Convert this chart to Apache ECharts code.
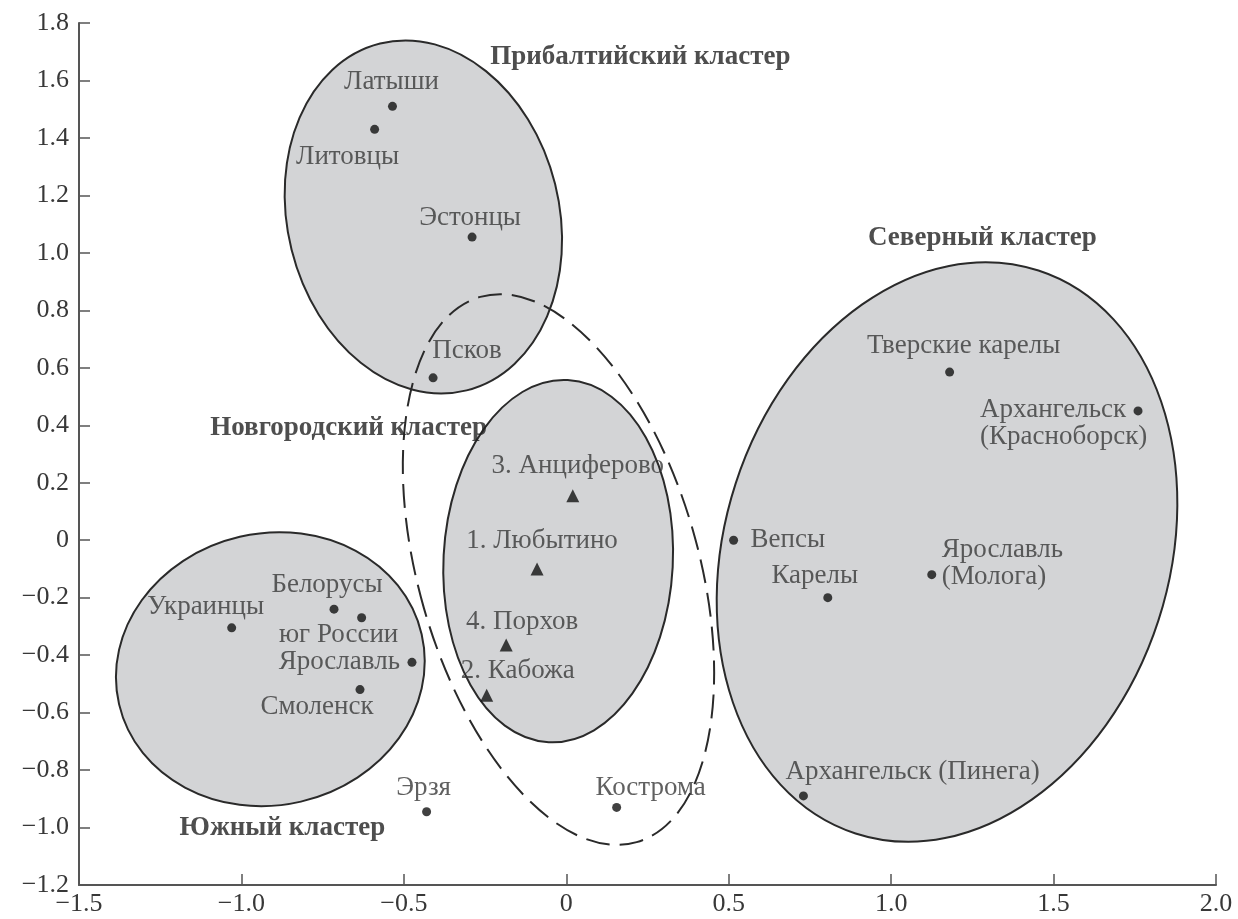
<!DOCTYPE html>
<html>
<head>
<meta charset="utf-8">
<script src="https://cdn.jsdelivr.net/npm/echarts@6/dist/echarts.min.js"></script>
<style>
    html, body { margin: 0; padding: 0; background: #fff; }
    #chart { width: 1238px; height: 919px; }
</style>
</head>
<body>
<div id="chart"></div>
<script>
// populations (dots)
const popNames = ['Латыши', 'Литовцы', 'Эстонцы', 'Псков', 'Украинцы', 'Белорусы', 'юг России',
    'Ярославль', 'Смоленск', 'Эрзя', 'Кострома', 'Вепсы', 'Карелы', 'Тверские карелы',
    'Архангельск\n(Красноборск)', 'Ярославль\n(Молога)', 'Архангельск (Пинега)'];
const popX = [-0.535, -0.59, -0.29, -0.41, -1.03, -0.715, -0.63, -0.475, -0.635, -0.43, 0.155,
    0.515, 0.805, 1.18, 1.76, 1.125, 0.73];
const popY = [1.51, 1.43, 1.055, 0.565, -0.305, -0.24, -0.27, -0.425, -0.52, -0.945, -0.93,
    0, -0.2, 0.585, 0.45, -0.12, -0.89];

// medieval Novgorod samples (triangles)
const siteNames = ['3. Анциферово', '1. Любытино', '4. Порхов', '2. Кабожа'];
const siteX = [0.02, -0.09, -0.185, -0.245];
const siteY = [0.155, -0.1, -0.365, -0.54];

// cluster captions
const clusterNames = ['Прибалтийский кластер', 'Северный кластер', 'Новгородский кластер', 'Южный кластер'];
const clusterX = [0.228, 1.281, -0.67, -0.874];
const clusterY = [1.682, 1.052, 0.39, -1.002];

// cluster ellipses: centre, semi-axes (data units), rotation in degrees
const ellCx = [-0.44, -0.911, -0.025, 1.172, -0.024];
const ellCy = [1.125, -0.449, -0.073, -0.041, -0.102];
const ellRx = [0.418, 0.478, 0.353, 0.684, 0.431];
const ellRy = [0.622, 0.473, 0.631, 1.03, 0.987];
const ellAngle = [14, 13, -3, -18, 16];
const ellDashed = [false, false, false, false, true];

// label placement: [align, dx, dy] from the marker centre
const labelLayout = {
    'Латыши': ['center', -1, -24],
    'Литовцы': ['center', -27, 28],
    'Эстонцы': ['center', -2, -19],
    'Псков': ['center', 34, -27],
    'Украинцы': ['center', -26, -21],
    'Белорусы': ['center', -7, -24],
    'юг России': ['center', -23, 17],
    'Ярославль': ['right', -12, 0],
    'Смоленск': ['center', -43, 17],
    'Эрзя': ['center', -3, -24],
    'Кострома': ['center', 34, -20],
    'Вепсы': ['left', 17, 0],
    'Карелы': ['center', -13, -22],
    'Тверские карелы': ['center', 14, -26],
    'Архангельск\n(Красноборск)': ['left', -158, 13],
    'Ярославль\n(Молога)': ['left', 10, -11],
    'Архангельск (Пинега)': ['left', -18, -24],
    '3. Анциферово': ['center', 5, -30],
    '1. Любытино': ['center', 5, -28],
    '4. Порхов': ['center', 16, -23],
    '2. Кабожа': ['center', 31, -24]
};

const FONT = '"Liberation Serif", "DejaVu Serif", serif';
const TEXT = '#383838';

function pointItems(names, xs, ys) {
    return names.map((n, i) => {
        const l = labelLayout[n];
        return {
            name: n,
            value: [xs[i], ys[i]],
            label: { align: l[0], offset: [l[1], l[2]] }
        };
    });
}

function tickFmt(v) {
    if (Math.abs(v) < 1e-9) return '0';
    return v.toFixed(1).replace('-', '−');
}

const ellipseData = ellCx.map((c, i) => [c, ellCy[i], ellRx[i], ellRy[i], ellAngle[i]]);

const chart = echarts.init(document.getElementById('chart'));
chart.setOption({
    animation: false,
    grid: { left: 79, right: 22, top: 23, bottom: 34, containLabel: false },
    xAxis: {
        type: 'value',
        min: -1.5,
        max: 2.0,
        interval: 0.5,
        splitLine: { show: false },
        axisLine: { show: true, onZero: false, lineStyle: { color: '#555', width: 2 } },
        axisTick: { show: true, inside: true, length: 11, lineStyle: { color: '#555', width: 1.5 } },
        axisLabel: { margin: 6, color: TEXT, fontFamily: FONT, fontSize: 26, formatter: tickFmt }
    },
    yAxis: {
        type: 'value',
        min: -1.2,
        max: 1.8,
        interval: 0.2,
        splitLine: { show: false },
        axisLine: { show: true, onZero: false, lineStyle: { color: '#555', width: 2 } },
        axisTick: { show: true, inside: true, length: 11, lineStyle: { color: '#555', width: 1.5 } },
        axisLabel: { margin: 10, color: TEXT, fontFamily: FONT, fontSize: 26, formatter: tickFmt }
    },
    series: [
        {
            type: 'custom',
            silent: true,
            data: ellipseData,
            encode: { x: 0, y: 1 },
            renderItem(params, api) {
                const cx = api.value(0), cy = api.value(1);
                const c = api.coord([cx, cy]);
                const s = api.size([api.value(2), api.value(3)], [cx, cy]);
                const dashed = ellDashed[params.dataIndex];
                return {
                    type: 'ellipse',
                    x: c[0],
                    y: c[1],
                    rotation: api.value(4) * Math.PI / 180,
                    shape: { cx: 0, cy: 0, rx: s[0], ry: s[1] },
                    style: dashed
                        ? { fill: null, stroke: '#2a2a2a', lineWidth: 2, lineDash: [24, 10] }
                        : { fill: '#d3d4d6', stroke: '#2a2a2a', lineWidth: 2 }
                };
            },
            z: 1
        },
        {
            type: 'scatter',
            silent: true,
            symbol: 'circle',
            symbolSize: 9,
            itemStyle: { color: '#111' },
            label: {
                show: true,
                position: 'inside',
                verticalAlign: 'middle',
                formatter: '{b}',
                color: TEXT,
                fontFamily: FONT,
                fontSize: 27,
                lineHeight: 27
            },
            data: pointItems(popNames, popX, popY),
            z: 3
        },
        {
            type: 'scatter',
            silent: true,
            symbol: 'triangle',
            symbolSize: 13,
            itemStyle: { color: '#111' },
            label: {
                show: true,
                position: 'inside',
                verticalAlign: 'middle',
                formatter: '{b}',
                color: TEXT,
                fontFamily: FONT,
                fontSize: 27
            },
            data: pointItems(siteNames, siteX, siteY),
            z: 3
        },
        {
            type: 'scatter',
            silent: true,
            symbolSize: 1,
            itemStyle: { color: 'rgba(0,0,0,0)' },
            label: {
                show: true,
                position: 'inside',
                formatter: '{b}',
                color: '#222',
                fontFamily: FONT,
                fontWeight: 'bold',
                fontSize: 27
            },
            data: clusterNames.map((n, i) => ({ name: n, value: [clusterX[i], clusterY[i]] })),
            z: 4
        }
    ]
});
</script>
</body>
</html>
